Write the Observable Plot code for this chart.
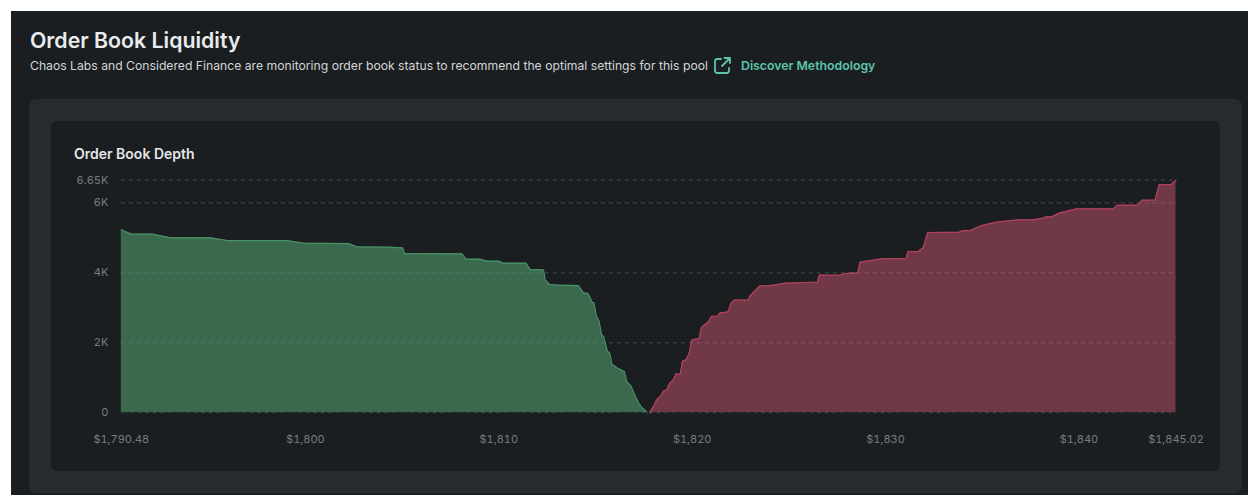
<!DOCTYPE html>
<html>
<head>
<meta charset="utf-8">
<script src="https://cdn.jsdelivr.net/npm/d3@7"></script>
<script src="https://cdn.jsdelivr.net/npm/@observablehq/plot@0.6"></script>
<style>
html,body{margin:0;padding:0;background:#fff;width:1248px;height:495px;overflow:hidden;font-family:Inter,"Liberation Sans",sans-serif}
.abs{position:absolute}
#page{left:11px;top:11px;width:1237px;height:484px;background:#1a1e21}
#panel{left:29px;top:99px;width:1213px;height:394px;background:#272b2f;border-radius:7px}
#card{left:51px;top:121px;width:1169px;height:350px;background:#1a1e21;border-radius:6px}
#title{left:30px;top:26px;font-size:21.3px;font-weight:600;color:#e9ebec;line-height:28px;white-space:nowrap}
#sub{left:30px;top:57px;font-size:12.2px;color:#d3d6d8;line-height:17px;white-space:nowrap}
#link{left:741px;top:57px;font-size:12.3px;font-weight:600;color:#5cc4ac;line-height:17px;white-space:nowrap}
#icon{left:713px;top:56px}
#chartTitle{left:74px;top:145px;font-size:14px;font-weight:600;color:#e4e6e8;line-height:18px;white-space:nowrap}
#chart{left:51px;top:170px;width:1160px;height:275px;overflow:hidden}
</style>
</head>
<body>
<div class="abs" id="page"></div>
<div class="abs" id="panel"></div>
<div class="abs" id="card"></div>
<div class="abs" id="title">Order Book Liquidity</div>
<div class="abs" id="sub">Chaos Labs and Considered Finance are monitoring order book status to recommend the optimal settings for this pool</div>
<svg class="abs" id="icon" width="19" height="19" viewBox="0 0 19 19" fill="none" stroke="#5cc4ac" stroke-width="1.8" stroke-linecap="round" stroke-linejoin="round"><path d="M8 3H4.5A2.5 2.5 0 0 0 2 5.5v9A2.5 2.5 0 0 0 4.5 17h9a2.5 2.5 0 0 0 2.5-2.5V12"/><path d="M9 10L17 2M11.5 2H17v5"/></svg>
<div class="abs" id="link">Discover Methodology</div>
<div class="abs" id="chartTitle">Order Book Depth</div>
<div class="abs" id="chart"></div>
<script>
const bidPrices = [1790.48,1790.99,1792.08,1793.02,1795.09,1795.95,1799.05,1799.91,1802.24,1802.67,1804.22,1805.03,1805.12,1808.10,1808.30,1809.01,1809.39,1809.99,1810.22,1811.41,1811.63,1812.31,1812.40,1812.62,1813.09,1814.12,1814.38,1814.61,1814.82,1814.92,1815.04,1815.18,1815.33,1815.42,1815.62,1815.73,1815.85,1816.11,1816.49,1816.62,1816.83,1817.09,1817.22,1817.40,1817.69];
const bidDepth = [5230,5105,5105,5000,5000,4923,4923,4848,4837,4743,4734,4714,4551,4543,4391,4391,4334,4334,4277,4277,4086,4086,3800,3666,3648,3637,3428,3408,3163,3143,2771,2628,2208,2191,1751,1723,1391,1286,1180,886,771,437,294,151,0];
const askPrices = [1817.79,1817.97,1818.17,1818.35,1818.52,1818.69,1818.83,1819.03,1819.17,1819.39,1819.50,1819.69,1819.86,1819.98,1820.36,1820.48,1820.84,1821.00,1821.31,1821.45,1821.79,1821.88,1821.99,1822.18,1822.90,1823.00,1823.50,1823.98,1824.87,1826.48,1826.58,1827.65,1827.91,1828.56,1828.68,1829.89,1831.06,1831.16,1831.69,1831.95,1832.18,1833.81,1833.99,1834.37,1834.97,1835.71,1836.91,1837.61,1838.15,1838.29,1838.59,1839.02,1839.91,1841.77,1841.98,1843.03,1843.27,1843.94,1844.15,1844.77,1845.02];
const askDepth = [0,151,371,466,620,657,837,943,1106,1114,1477,1514,1723,2086,2123,2437,2600,2757,2766,2857,2877,2914,3114,3220,3220,3343,3628,3628,3706,3734,3934,3934,3980,4000,4305,4408,4408,4608,4608,4714,5151,5163,5208,5208,5351,5448,5514,5514,5563,5600,5600,5714,5828,5828,5934,5934,6077,6077,6523,6523,6650];
const xTicks = [1790.48,1800,1810,1820,1830,1840,1845.02];
const yTicks = [0,2000,4000,6000,6650];
const yTickLabels = ["0","2K","4K","6K","6.65K"];

const bids = bidPrices.map((x,i)=>({x,y:bidDepth[i]}));
const asks = askPrices.map((x,i)=>({x,y:askDepth[i]}));
const font = "Inter, 'Liberation Sans', sans-serif";

const plot = Plot.plot({
  width:1160, height:275,
  marginLeft:69.8, marginRight:35, marginTop:9.6, marginBottom:32.7,
  style:{background:"transparent",fontFamily:font,fontSize:"11px",overflow:"hidden"},
  x:{domain:[1790.48,1845.02],range:[69.8,1124.5]},
  y:{domain:[0,6650],range:[242.3,9.6]},
  marks:[
    Plot.areaY(bids,{x:"x",y:"y",fill:"#3b694d"}),
    Plot.areaY(asks,{x:"x",y:"y",fill:"#713847"}),
    Plot.lineY(bids,{x:"x",y:"y",stroke:"#4b9268",strokeWidth:1.2}),
    Plot.lineY(asks,{x:"x",y:"y",stroke:"#b3415e",strokeWidth:1.2}),
    Plot.ruleY(yTicks,{stroke:"#8a8f92",strokeOpacity:0.4,strokeWidth:1,strokeDasharray:"4 4"}),
    Plot.ruleY([0],{stroke:"#1a1e21",strokeWidth:1,strokeDasharray:"4 3"}),
    Plot.axisX({ticks:xTicks,tickSize:0,tickPadding:22,color:"#777c80",tickFormat:d=>Number.isInteger(d)?d3.format("$,")(d):d3.format("$,.2f")(d),label:null}),
    Plot.axisY({ticks:yTicks,tickSize:0,tickPadding:13,color:"#777c80",tickFormat:d=>yTickLabels[yTicks.indexOf(d)],label:null})
  ]
});
document.getElementById("chart").appendChild(plot);
</script>
</body>
</html>
